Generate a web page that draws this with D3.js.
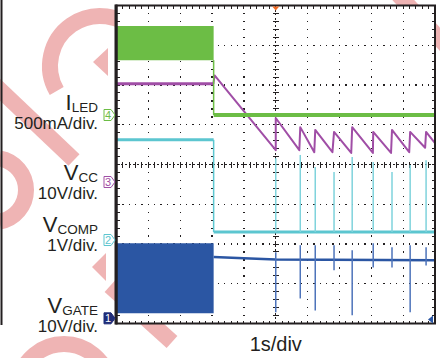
<!DOCTYPE html>
<html lang="en">
<head>
    <meta charset="UTF-8">
    <title>Open LED protection - hiccup mode</title>
    <script src="https://d3js.org/d3.v7.min.js"></script>
    <style>
        body {
            width: 440px;
            height: 358px;
            margin: 0;
            background: white;
            overflow: hidden;
            font-family: "Liberation Sans", Arial, sans-serif;
        }
        svg { display: block; }
        .lbl { fill: #231f20; }
    </style>
</head>
<body>
    <div id="scope"></div>
    <script>
        // Time base 1 s/div, trigger at screen centre (t = 0)
        const timeDomain = [-5, 5];
        const divDomain = [-4, 4];
        const tFault = -1.95;

        // restart instants of the hiccup cycle (s)
        const restarts = [0, 0.77, 1.24, 1.83, 2.40, 3.06, 3.65, 4.22, 4.72];

        // I_LED (A), 500 mA/div : [t, low, high] ripple envelope, then the trace
        const iledRipple = [[-5, 0.69, 1.12], [tFault, 0.69, 1.12]];
        const iledTrace = [[tFault, 0.69], [tFault, 0.0], [5, 0.0]];

        // V_CC (V), 10 V/div
        const vccBefore = [[-5, 24.7], [-1.96, 24.7]];
        const vccTrace = [
            [-1.96, 24.7], [-1.92, 26.8], [0, 8.0],
            [0, 16.1], [0.74, 8.0], [0.77, 13.8], [1.21, 7.5],
            [1.24, 13.1], [1.78, 7.5], [1.83, 12.6], [2.37, 7.3],
            [2.40, 13.8], [3.05, 7.3], [3.06, 12.6], [3.62, 7.3],
            [3.65, 13.1], [4.19, 7.5], [4.22, 12.6], [4.69, 8.6],
            [4.72, 12.6], [5, 9.8]
        ];

        // V_COMP (V), 1 V/div
        const vcompTrace = [[-5, 2.52], [tFault, 2.52], [tFault, 0.2], [5, 0.2]];
        const vcompPulse = [2.06, 2.14, 1.84, 1.71, 2.09, 1.96, 1.71, 1.89, 2.01];

        // V_GATE (V), 10 V/div
        const vgateSwitching = [[-5, 1.3, 18.9], [tFault, 1.3, 18.9]];
        const vgateTrace = [[tFault, 15.4], [-1.0, 15.1], [0, 14.8], [5, 14.6]];
        const vgatePulseHigh = [16.6, 18.4, 18.4, 18.4, 17.1, 18.9, 17.9, 18.4, 17.9];
        const vgatePulseLow = [1.5, 5.0, 2.0, 12.1, 0.75, 12.8, 12.8, 1.5, 13.3];

        const channels = {
            iled:  { num: '4', perDiv: 0.5, offset: 1.245, color: '#6cbd45' },
            vcc:   { num: '3', perDiv: 10,  offset: -0.44, color: '#a04ea6' },
            vcomp: { num: '2', perDiv: 1,   offset: -1.90, color: '#5cc6d0' },
            vgate: { num: '1', perDiv: 10,  offset: -3.87, color: '#2b56a3' }
        };

        const W = 440, H = 358;
        const L = 116.5, R = 435, T = 5.5, B = 323.5;

        const svg = d3.select('#scope').append('svg')
            .attr('width', W).attr('height', H);

        // ---- watermark (behind the screen) ----
        const wm = svg.append('g')
            .attr('fill', 'none')
            .attr('stroke', '#efb4b4')
            .attr('stroke-width', 16);
        const deg = Math.PI / 180;
        let p = d3.path();
        p.arc(100, 66, 50, 150 * deg, 320 * deg);
        wm.append('path').attr('d', p.toString());
        p = d3.path();
        p.moveTo(-6, 84); p.lineTo(74, 160);
        wm.append('path').attr('d', p.toString());
        p = d3.path();
        p.arc(-6, 190, 32, -80 * deg, 80 * deg);
        wm.append('path').attr('d', p.toString());
        p = d3.path();
        p.arc(64, 390, 46, 190 * deg, 350 * deg);
        wm.append('path').attr('d', p.toString());
        p = d3.path();
        p.moveTo(110, 286); p.lineTo(172, 342);
        wm.append('path').attr('d', p.toString());
        p = d3.path();
        p.moveTo(392, -12); p.lineTo(452, 52);
        wm.append('path').attr('d', p.toString());
        // pointed tips
        wm.append('path').attr('stroke', 'none').attr('fill', '#efb4b4')
            .attr('d', 'M93,62 L108,48 L108,76 Z');
        wm.append('path').attr('stroke', 'none').attr('fill', '#efb4b4')
            .attr('d', 'M92,267 L106,253 L106,281 Z');

        // left margin rule
        svg.append('line')
            .attr('x1', 1.5).attr('x2', 1.5).attr('y1', 0).attr('y2', 325)
            .attr('stroke', '#231f20').attr('stroke-width', 2);

        // ---- screen ----
        const x = d3.scaleLinear().domain(timeDomain).range([L, R]);
        const yDiv = d3.scaleLinear().domain(divDomain).range([B, T]);
        const yOf = ch => v => yDiv(v / ch.perDiv + ch.offset);

        svg.append('rect')
            .attr('x', L).attr('y', T).attr('width', R - L).attr('height', B - T)
            .attr('fill', 'white');

        const grid = svg.append('g').attr('shape-rendering', 'crispEdges').attr('fill', '#231f20');
        const minorT = d3.range(timeDomain[0], timeDomain[1] + 0.001, 0.2);
        const minorD = d3.range(divDomain[0], divDomain[1] + 0.001, 0.2);
        const majorT = d3.range(-4, 5, 1).filter(d => d !== 0);
        const majorD = d3.range(-3, 4, 1).filter(d => d !== 0);

        majorT.forEach(t => {
            grid.selectAll(null).data(minorD).join('rect')
                .attr('x', x(t) - 0.6).attr('y', d => yDiv(d) - 0.6)
                .attr('width', 1.3).attr('height', 1.3);
        });
        majorD.forEach(dv => {
            grid.selectAll(null).data(minorT).join('rect')
                .attr('x', d => x(d) - 0.6).attr('y', yDiv(dv) - 0.6)
                .attr('width', 1.3).attr('height', 1.3);
        });

        // centre cross with minor ticks
        const tick = svg.append('g').attr('stroke', '#231f20').attr('stroke-width', 1)
            .attr('shape-rendering', 'crispEdges');
        tick.append('line')
            .attr('x1', x(0)).attr('x2', x(0)).attr('y1', T).attr('y2', B)
            .attr('stroke-dasharray', '2,2');
        tick.append('line')
            .attr('x1', L).attr('x2', R).attr('y1', yDiv(0)).attr('y2', yDiv(0))
            .attr('stroke-dasharray', '2,2');
        tick.selectAll(null).data(minorD).join('line')
            .attr('x1', x(0) - 3).attr('x2', x(0) + 3)
            .attr('y1', d => yDiv(d)).attr('y2', d => yDiv(d));
        tick.selectAll(null).data(minorT).join('line')
            .attr('x1', d => x(d)).attr('x2', d => x(d))
            .attr('y1', yDiv(0) - 3).attr('y2', yDiv(0) + 3);
        // edge ticks
        tick.selectAll(null).data(minorT).join('line')
            .attr('x1', d => x(d)).attr('x2', d => x(d))
            .attr('y1', T).attr('y2', T + 3);
        tick.selectAll(null).data(minorT).join('line')
            .attr('x1', d => x(d)).attr('x2', d => x(d))
            .attr('y1', B - 3).attr('y2', B);
        tick.selectAll(null).data(minorD).join('line')
            .attr('x1', L).attr('x2', L + 3)
            .attr('y1', d => yDiv(d)).attr('y2', d => yDiv(d));
        tick.selectAll(null).data(minorD).join('line')
            .attr('x1', R - 3).attr('x2', R)
            .attr('y1', d => yDiv(d)).attr('y2', d => yDiv(d));

        // ---- traces ----
        const tr = svg.append('g').attr('fill', 'none');
        // draws consecutive segments: vertical steps thin, level parts thick
        function steppedLine(data, yScale, color, wide, thin) {
            d3.pairs(data).forEach(([a, b]) => {
                tr.append('path')
                    .datum([a, b])
                    .attr('stroke', color)
                    .attr('stroke-width', a[0] === b[0] ? thin : wide)
                    .attr('stroke-linecap', 'butt')
                    .attr('d', d3.line().x(d => x(d[0])).y(d => yScale(d[1])));
            });
        }

        // V_GATE
        const yG = yOf(channels.vgate);
        tr.append('path')
            .datum(vgateSwitching)
            .attr('fill', channels.vgate.color)
            .attr('d', d3.area().x(d => x(d[0])).y0(d => yG(d[1])).y1(d => yG(d[2])));
        tr.append('path')
            .datum(vgateTrace)
            .attr('stroke', channels.vgate.color).attr('stroke-width', 2.5)
            .attr('d', d3.line().x(d => x(d[0])).y(d => yG(d[1])));
        tr.selectAll(null).data(restarts).join('line')
            .attr('stroke', '#4d73ba').attr('stroke-width', 1.5)
            .attr('x1', d => x(d)).attr('x2', d => x(d))
            .attr('y1', (d, i) => yG(vgatePulseHigh[i]))
            .attr('y2', (d, i) => yG(vgatePulseLow[i]));

        // V_COMP
        const yC = yOf(channels.vcomp);
        steppedLine(vcompTrace, yC, channels.vcomp.color, 3, 1.5);
        tr.selectAll(null).data(restarts).join('line')
            .attr('stroke', '#7fd3dc').attr('stroke-width', 1.5)
            .attr('x1', d => x(d)).attr('x2', d => x(d))
            .attr('y1', (d, i) => yC(vcompPulse[i]))
            .attr('y2', yC(0.2));

        // V_CC
        const yV = yOf(channels.vcc);
        tr.append('path')
            .datum(vccBefore)
            .attr('stroke', channels.vcc.color).attr('stroke-width', 3)
            .attr('d', d3.line().x(d => x(d[0])).y(d => yV(d[1])));
        tr.append('path')
            .datum(vccTrace)
            .attr('stroke', channels.vcc.color).attr('stroke-width', 2)
            .attr('stroke-linejoin', 'round')
            .attr('d', d3.line().x(d => x(d[0])).y(d => yV(d[1])));

        // I_LED
        const yI = yOf(channels.iled);
        tr.append('path')
            .datum(iledRipple)
            .attr('fill', channels.iled.color)
            .attr('d', d3.area().x(d => x(d[0])).y0(d => yI(d[1])).y1(d => yI(d[2])));
        steppedLine(iledTrace, yI, channels.iled.color, 4, 1.5);

        // frame
        svg.append('rect')
            .attr('x', L).attr('y', T).attr('width', R - L).attr('height', B - T)
            .attr('fill', 'none').attr('stroke', '#231f20').attr('stroke-width', 2);
        svg.append('line')
            .attr('x1', L - 0.5).attr('x2', L - 0.5).attr('y1', T - 1).attr('y2', B + 1)
            .attr('stroke', '#231f20').attr('stroke-width', 3);

        // trigger markers
        svg.append('path').attr('fill', '#f26a22')
            .attr('d', `M${x(0) - 3.5},${T + 1} L${x(0) + 3.5},${T + 1} L${x(0)},${T + 5} Z`);
        svg.append('path').attr('fill', channels.vgate.color)
            .attr('d', `M${R - 7},${B - 4} L${R - 2},${B - 8} L${R - 2},${B} Z`);

        // channel ground markers
        Object.values(channels).forEach(ch => {
            const yy = yDiv(ch.offset);
            const filled = ch.num === '1';
            const m = svg.append('g').attr('transform', `translate(${L - 13},${yy})`);
            m.append('path')
                .attr('d', 'M0.5,-5.5 H7.5 L11.5,0 L7.5,5.5 H0.5 Z')
                .attr('fill', filled ? '#1f2c78' : 'white')
                .attr('stroke', filled ? '#1f2c78' : ch.color)
                .attr('stroke-width', 1);
            m.append('text')
                .attr('x', 4.5).attr('y', 4)
                .attr('text-anchor', 'middle')
                .attr('font-size', 11)
                .attr('fill', filled ? 'white' : ch.color)
                .text(ch.num);
        });

        // channel labels
        const labels = [
            { main: 'I', sub: 'LED', scale: '500mA/div.', y1: 110, y2: 129 },
            { main: 'V', sub: 'CC', scale: '10V/div.', y1: 180, y2: 199 },
            { main: 'V', sub: 'COMP', scale: '1V/div.', y1: 232, y2: 251 },
            { main: 'V', sub: 'GATE', scale: '10V/div.', y1: 313, y2: 332 }
        ];
        labels.forEach(d => {
            const t1 = svg.append('text').attr('class', 'lbl')
                .attr('x', 98).attr('y', d.y1).attr('text-anchor', 'end');
            t1.append('tspan').attr('font-size', 22).text(d.main);
            t1.append('tspan').attr('font-size', 13.5).attr('dy', 2).text(d.sub);
            svg.append('text').attr('class', 'lbl')
                .attr('x', 98).attr('y', d.y2).attr('text-anchor', 'end')
                .attr('font-size', 17).text(d.scale);
        });

        svg.append('text').attr('class', 'lbl')
            .attr('x', x(0)).attr('y', 351).attr('text-anchor', 'middle')
            .attr('font-size', 20).text('1s/div');
    </script>
</body>
</html>
